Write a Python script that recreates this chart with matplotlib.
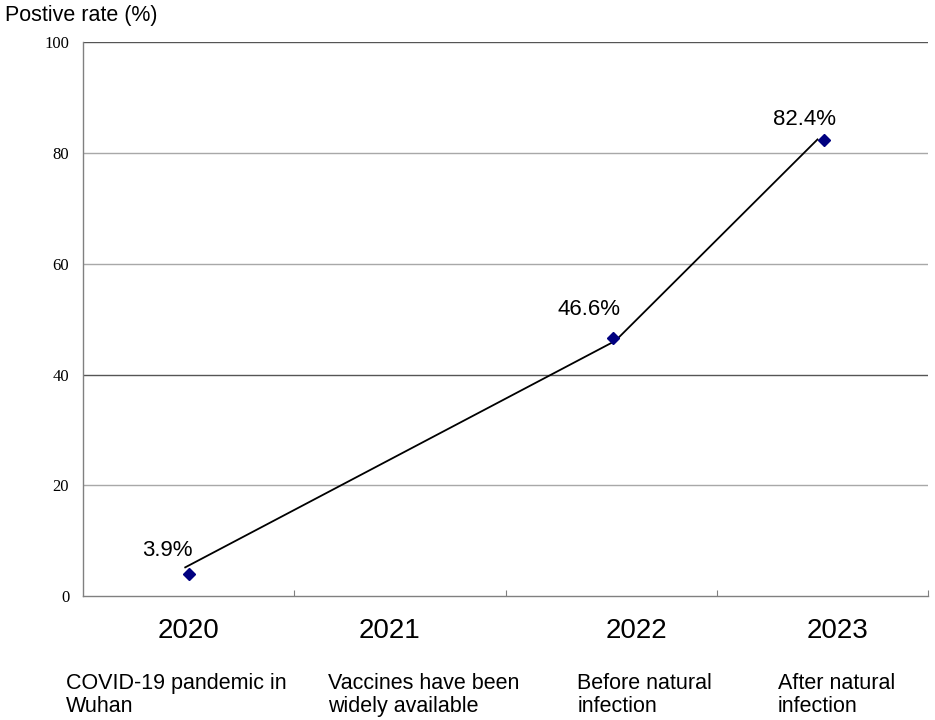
import numpy as np
import matplotlib
matplotlib.use('Agg')
import matplotlib.pyplot as plt
import matplotlib.transforms as mtransforms

plt.rcParams['font.family'] = ['Liberation Sans', 'DejaVu Sans']

# ===== data =====
years = ['2020', '2021', '2022', '2023']
descriptions = ['COVID-19 pandemic in\nWuhan',
                'Vaccines have been\nwidely available',
                'Before natural\ninfection',
                'After natural\ninfection']
point_idx = [0, 2, 3]
point_vals = [3.9, 46.6, 82.4]
line_vals = [5.1, 46.1, 82.6]
point_labels = ['3.9%', '46.6%', '82.4%']
y_ticks = [0, 20, 40, 60, 80, 100]

fig = plt.figure(figsize=(9.35, 7.2), dpi=100)
ax = fig.add_axes([0.0888, 0.1722, 0.9037, 0.7688])

ax.set_xlim(-0.5, 3.5)
ax.set_ylim(0, 100)

# grid lines (40 drawn darker like in the source)
for v in y_ticks[1:]:
    c = '#555555' if v in (40, 100) else '#a8a8a8'
    ax.axhline(v, color=c, lw=1.0, zorder=1)

for s in ['top', 'right']:
    ax.spines[s].set_visible(False)
for s in ['left', 'bottom']:
    ax.spines[s].set_color('#808080')
    ax.spines[s].set_linewidth(1.0)

ax.set_yticks(y_ticks)
ax.set_yticklabels([str(v) for v in y_ticks], family='Liberation Serif', fontsize=12)
ax.tick_params(axis='y', length=0, pad=10)
ax.set_xticks(np.arange(len(years)) + 0.5)
ax.set_xticklabels([])
ax.tick_params(axis='x', direction='in', length=4, color='#808080')

# line and markers (line drawn slightly apart from the markers, as in source)
line_dx = [-0.02, 0.02, -0.02]
mark_dx = [0.0, 0.01, 0.01]
lx = np.array(point_idx) + np.array(line_dx)
mx = np.array(point_idx) + np.array(mark_dx)
ax.plot(lx, line_vals, color='black', lw=1.3, zorder=3, solid_capstyle='butt')
ax.plot(mx, point_vals, linestyle='none', marker='D', ms=6, color='#000080', zorder=4)

label_off = [(-21, 24), (-24, 29), (-20, 20)]
for x, y, t, off in zip(mx, point_vals, point_labels, label_off):
    ax.annotate(t, (x, y), xytext=off, textcoords='offset pixels',
                ha='center', va='center', fontsize=16)

# category text under the axis
trans = mtransforms.blended_transform_factory(ax.transData, fig.transFigure)
year_dx = [0.0, -0.05, 0.12, 0.07]
desc_dx = [-0.58, -0.34, -0.16, -0.21]
for i, (yr, d) in enumerate(zip(years, descriptions)):
    ax.text(i + year_dx[i], 1 - 631 / 720, yr, transform=trans,
            ha='center', va='center', fontsize=20)
    ax.text(i + desc_dx[i], 1 - 673 / 720, d, transform=trans,
            ha='left', va='top', fontsize=15.5, linespacing=1.12)

fig.text(5 / 935, 1 - 15 / 720, 'Postive rate (%)', ha='left', va='center', fontsize=15.5)

fig.savefig('out.png', dpi=100)
